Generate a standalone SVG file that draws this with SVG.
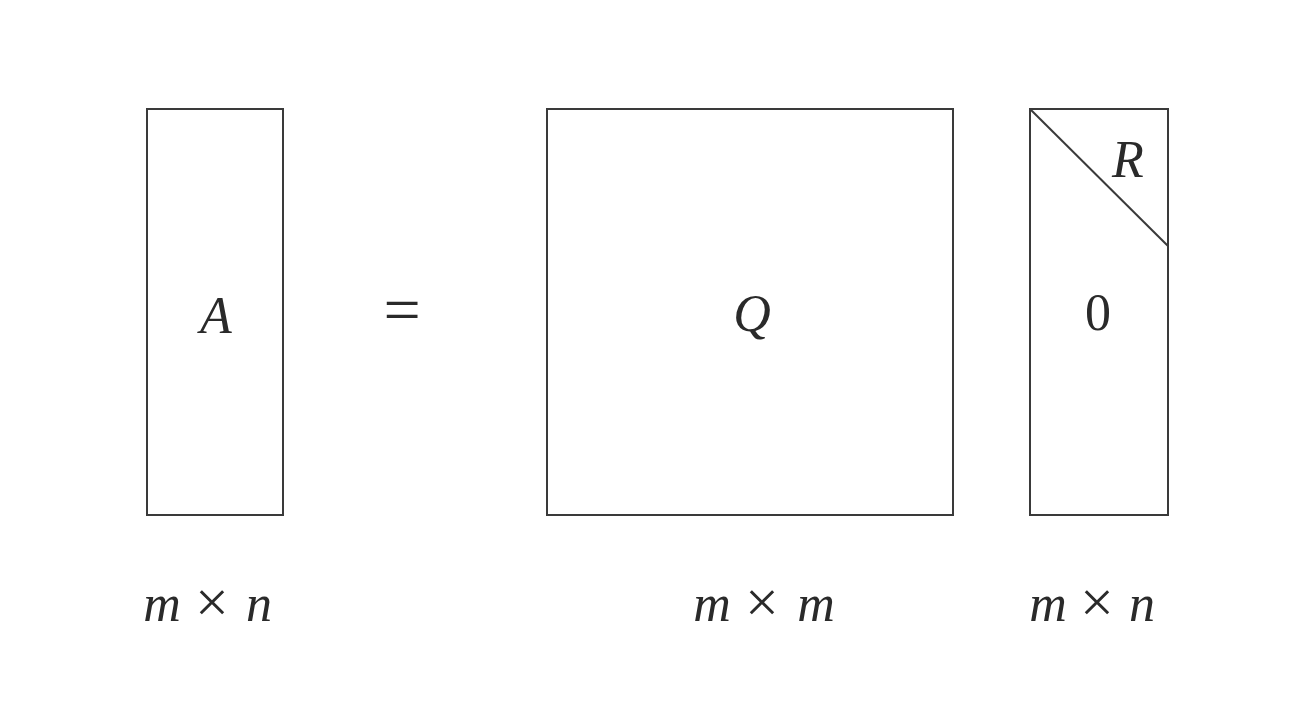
<svg xmlns="http://www.w3.org/2000/svg" width="1310" height="704" viewBox="0 0 1310 704">
<style>
.box{fill:none;stroke:#3a3a3a;stroke-width:2}
.t{font-family:"Liberation Serif","DejaVu Serif",serif;fill:#2a2a2a;text-anchor:middle}
.i{font-style:italic}
.big{font-size:52px}
.lab{font-size:52px}
.x{font-size:60px;font-style:normal;fill:#2a2a2a}
.eq{font-size:66px}
</style>
<rect width="1310" height="704" fill="#fff"/>
<g id="nodeA">
<rect class="box" x="147" y="109" width="136" height="406"/>
<text class="t i big" x="216" y="333">A</text>
<text class="t i lab" y="621"><tspan x="162">m</tspan><tspan class="x" x="212" dy="1">×</tspan><tspan x="259" dy="-1">n</tspan></text>
</g>
<g id="equals">
<text class="t eq" x="402" y="332">=</text>
</g>
<g id="nodeQ">
<rect class="box" x="547" y="109" width="406" height="406"/>
<text class="t i big" x="752" y="331">Q</text>
<text class="t i lab" y="621"><tspan x="712">m</tspan><tspan class="x" x="762" dy="1">×</tspan><tspan x="816" dy="-1">m</tspan></text>
</g>
<g id="nodeR">
<rect class="box" x="1030" y="109" width="138" height="406"/>
<line class="box" x1="1030" y1="109" x2="1168" y2="246"/>
<text class="t i big" x="1128" y="177">R</text>
<text class="t big" x="1098" y="330">0</text>
<text class="t i lab" y="621"><tspan x="1048">m</tspan><tspan class="x" x="1097" dy="1">×</tspan><tspan x="1142" dy="-1">n</tspan></text>
</g>
<g id="connectors"></g>
</svg>
